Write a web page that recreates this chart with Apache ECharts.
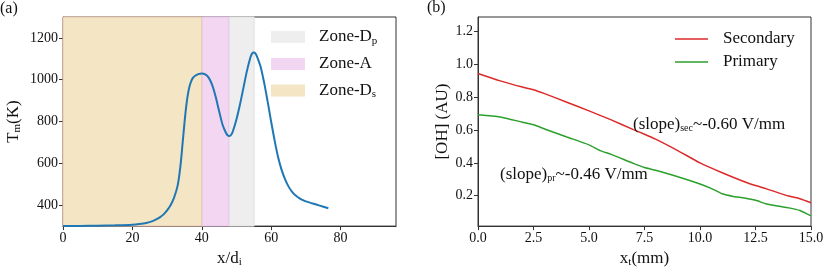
<!DOCTYPE html>
<html>
<head>
<meta charset="utf-8">
<script src="https://cdn.jsdelivr.net/npm/echarts@6/dist/echarts.min.js"></script>
<style>
html,body{margin:0;padding:0;background:#fff;}
#c{width:830px;height:273px;}
</style>
</head>
<body>
<div id="c"></div>
<script>
// ---------- Panel (a) data ----------
var tmX = [0, 5, 10, 15, 20, 22, 24, 26, 27, 28, 29, 30, 31, 32, 33, 33.5, 34, 34.5, 35, 35.5, 36, 36.5, 37, 37.5, 38, 39, 40, 41, 42, 43, 44, 45, 46, 47, 47.5, 48, 48.5, 49, 50, 51, 52, 53, 54, 54.5, 55, 55.5, 56, 57, 58, 59, 60, 61, 62, 63, 64, 65, 66, 67, 68, 69, 70, 72, 74, 76.5];
var tmY = [300, 301, 302, 304, 307, 310, 315, 325, 333, 343, 356, 375, 400, 435, 490, 540, 610, 700, 790, 870, 930, 970, 995, 1010, 1018, 1027, 1030, 1026, 1010, 975, 920, 850, 785, 745, 733, 731, 737, 755, 810, 880, 960, 1040, 1105, 1125, 1130, 1125, 1108, 1060, 985, 895, 800, 710, 630, 570, 525, 490, 465, 447, 435, 425, 418, 408, 398, 385];
var zoneNames = ['Zone-Dp', 'Zone-A', 'Zone-Ds'];
var zoneStart = [47.8, 40, 0];
var zoneEnd = [55.1, 47.8, 40];
var aXTicks = [0, 20, 40, 60, 80];
var aYTicks = [400, 600, 800, 1000, 1200];

// ---------- Panel (b) data ----------
var secX = [0, 1, 2, 2.5, 3, 4, 5, 6, 7, 7.5, 8, 9, 10, 11, 12, 12.5, 13, 14, 14.5, 15];
var secY = [0.945, 0.90, 0.862, 0.846, 0.822, 0.77, 0.717, 0.662, 0.603, 0.575, 0.545, 0.475, 0.40, 0.34, 0.285, 0.262, 0.242, 0.198, 0.182, 0.157];
var priX = [0, 1, 2, 2.5, 3, 4, 5, 5.5, 6, 7, 7.5, 8, 9, 10, 10.5, 11, 11.5, 12, 12.5, 13, 13.5, 14, 14.5, 15];
var priY = [0.693, 0.68, 0.648, 0.632, 0.607, 0.558, 0.51, 0.475, 0.452, 0.397, 0.372, 0.355, 0.316, 0.272, 0.245, 0.212, 0.196, 0.186, 0.172, 0.15, 0.137, 0.126, 0.11, 0.077];
var bXTicks = [0, 2.5, 5, 7.5, 10, 12.5, 15];
var bYTicks = [0.2, 0.4, 0.6, 0.8, 1.0, 1.2];

function pairs(xs, ys) { return xs.map(function (x, i) { return [x, ys[i]]; }); }

var FF = 'Liberation Serif';
var axisCol = '#333';
var subStyle = { fontFamily: FF, fontSize: 11, padding: [8, 0, 0, 0], color: '#111' };
var tickStyle = { fontFamily: FF, fontSize: 14, color: '#111' };
var legStyle = { fontFamily: FF, fontSize: 17, color: '#111', lineHeight: 18 };
var zoneColors = ['#eeeeee', '#f3d6f1', '#f4e6c5'];
var zoneBorders = ['#e2e2e2', '#e6c4e6', '#ebc2ae'];

function valueAxis(extra, fmt) {
  var base = {
    type: 'value',
    splitLine: { show: false },
    axisLine: { show: true, onZero: false, lineStyle: { color: axisCol, width: 1 } },
    axisTick: { show: true, length: 4, lineStyle: { color: axisCol } },
    axisLabel: { color: '#111', fontFamily: FF, fontSize: 14, margin: 5,
      rich: { t: tickStyle },
      formatter: function (v) { return '{t|' + fmt(v) + '}'; } },
    nameTextStyle: { color: '#111', fontFamily: FF, fontSize: 17, rich: { sub: subStyle, n: legStyle } },
    nameLocation: 'middle'
  };
  for (var k in extra) {
    if (typeof extra[k] === 'object' && base[k] && !Array.isArray(extra[k])) {
      base[k] = Object.assign({}, base[k], extra[k]);
    } else base[k] = extra[k];
  }
  return base;
}
function f0(v) { return String(v); }
function f1(v) { return v.toFixed(1); }

var series = [];
zoneNames.forEach(function (n, i) {
  series.push({
    name: n, type: 'line', xAxisIndex: 0, yAxisIndex: 0, data: [],
    color: zoneColors[i], symbol: 'none', silent: true,
    markArea: {
      silent: true,
      itemStyle: { color: zoneColors[i], borderColor: zoneBorders[i], borderWidth: 1 },
      data: [[{ xAxis: zoneStart[i] }, { xAxis: zoneEnd[i] }]]
    }
  });
});
series.push({
  name: 'Tm', type: 'line', xAxisIndex: 0, yAxisIndex: 0, z: 5,
  data: pairs(tmX, tmY), symbol: 'none', smooth: 0.3,
  lineStyle: { color: '#1f77b4', width: 2 }, color: '#1f77b4'
});
series.push({
  name: 'Secondary', type: 'line', xAxisIndex: 1, yAxisIndex: 1,
  data: pairs(secX, secY), symbol: 'none', smooth: 0.2,
  lineStyle: { color: '#dc2a2a', width: 1.5 }, color: '#dc2a2a'
});
series.push({
  name: 'Primary', type: 'line', xAxisIndex: 1, yAxisIndex: 1,
  data: pairs(priX, priY), symbol: 'none', smooth: 0.2,
  lineStyle: { color: '#2ca02c', width: 1.5 }, color: '#2ca02c'
});

var option = {
  animation: false,
  backgroundColor: '#fff',
  textStyle: { fontFamily: FF },
  grid: [
    { left: 63, top: 17, width: 333, height: 211.5, show: true, borderColor: axisCol, borderWidth: 1 },
    { left: 478, top: 17, width: 333, height: 211.5, show: true, borderColor: axisCol, borderWidth: 1 }
  ],
  xAxis: [
    valueAxis({ gridIndex: 0, min: 0, max: 96, name: 'x/d{sub|i}', nameGap: 17,
      axisTick: { customValues: aXTicks }, axisLabel: { customValues: aXTicks } }, f0),
    valueAxis({ gridIndex: 1, min: 0, max: 15, name: 'x{sub|t}(mm)', nameGap: 17,
      axisTick: { customValues: bXTicks }, axisLabel: { customValues: bXTicks } }, f1)
  ],
  yAxis: [
    valueAxis({ gridIndex: 0, min: 300, max: 1300, name: 'T{sub|m}(K)', nameGap: 40,
      axisTick: { customValues: aYTicks }, axisLabel: { customValues: aYTicks } }, f0),
    valueAxis({ gridIndex: 1, min: 0.015, max: 1.289, name: '[OH] (AU)', nameGap: 27,
      axisTick: { customValues: bYTicks }, axisLabel: { customValues: bYTicks } }, f1)
  ],
  legend: [
    {
      left: 271, top: 28, padding: 0, orient: 'vertical', itemWidth: 34, itemHeight: 12, itemGap: 8.5,
      data: zoneNames.map(function (n) { return { name: n, icon: 'rect' }; }),
      formatter: function (n) {
        if (n === 'Zone-Dp') return '{n|Zone-D}{sub|p}';
        if (n === 'Zone-Ds') return '{n|Zone-D}{sub|s}';
        return '{n|' + n + '}';
      },
      textStyle: { fontFamily: FF, fontSize: 17, color: '#111', lineHeight: 18, padding: [0, 0, 0, 9],
        rich: { sub: subStyle, n: legStyle } }
    },
    {
      left: 675, top: 30, padding: 0, orient: 'vertical', itemWidth: 33, itemHeight: 1.6, itemGap: 5,
      data: [{ name: 'Secondary', icon: 'rect' }, { name: 'Primary', icon: 'rect' }],
      formatter: function (n) { return '{n|' + n + '}'; },
      textStyle: { fontFamily: FF, fontSize: 17, color: '#111', lineHeight: 18, padding: [0, 0, 0, 10],
        rich: { n: legStyle } }
    }
  ],
  graphic: [
    { type: 'text', left: 0, top: 1, style: { text: '(a)', font: '16px ' + FF, fill: '#111' } },
    { type: 'text', left: 427, top: 0, style: { text: '(b)', font: '16px ' + FF, fill: '#111' } },
    { type: 'text', left: 633, top: 116, z: 10,
      style: { text: '(slope){sub|sec}~-0.60 V/mm', font: '17px ' + FF, fill: '#111',
        rich: { sub: { fontFamily: FF, fontSize: 10, padding: [8, 0, 0, 0], color: '#111' } } } },
    { type: 'text', left: 500, top: 166, z: 10,
      style: { text: '(slope){sub|pr}~-0.46 V/mm', font: '17px ' + FF, fill: '#111',
        rich: { sub: { fontFamily: FF, fontSize: 10, padding: [8, 0, 0, 0], color: '#111' } } } }
  ],
  series: series
};

var chart = echarts.init(document.getElementById('c'), null, { renderer: 'canvas' });
chart.setOption(option);
</script>
</body>
</html>
